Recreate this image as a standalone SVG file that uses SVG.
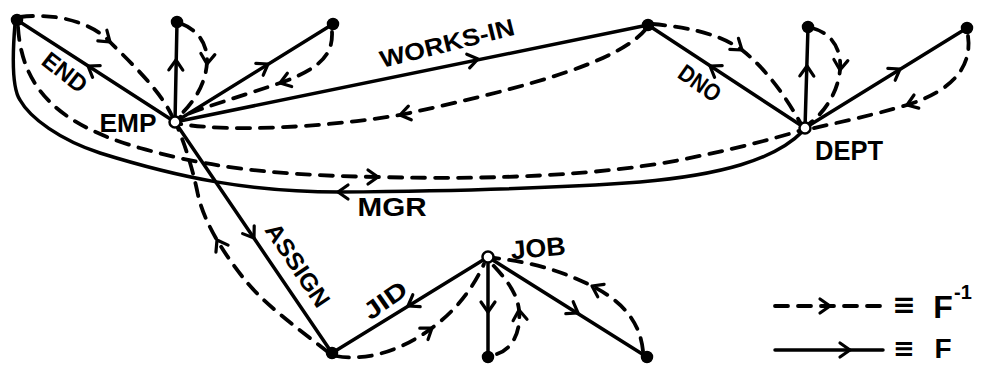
<svg xmlns="http://www.w3.org/2000/svg" xmlns:xlink="http://www.w3.org/1999/xlink" width="992" height="367" viewBox="0 0 992 367">
<style>
.s{fill:none;stroke:#000;stroke-width:3.5;stroke-linecap:round;stroke-linejoin:round}
.d{fill:none;stroke:#000;stroke-width:3.8;stroke-linecap:round;stroke-dasharray:13 10}
.f{fill:#000;stroke:#000;stroke-width:1.5}
.h{fill:#fff;stroke:#000;stroke-width:2.5}
.t{font-family:"Liberation Sans",Arial,sans-serif;font-weight:bold;fill:#000;text-anchor:middle}
.eq{font-family:"DejaVu Sans",sans-serif;font-weight:bold;fill:#000;text-anchor:middle}
</style>
<defs>
<path id="chev" d="M-10,-7 L0,0 L-10,7" fill="none" stroke="#000" stroke-width="3.2" stroke-linecap="round" stroke-linejoin="round"/>
</defs>
<rect width="992" height="367" fill="#fff"/>
<g id="connectors">
<!-- solid edges -->
<path class="s" d="M175,122 L17,20"/>
<path class="s" d="M175,122 L177,22"/>
<path class="s" d="M175,122 L333,24"/>
<path class="s" d="M175,122 L648,25"/>
<path class="s" d="M805,128 L648,25"/>
<path class="s" d="M805,128 L808,27"/>
<path class="s" d="M805,128 L967,28"/>
<path class="s" d="M803,131 C775,160 720,175 640,182 C560,188 450,191 340,192 C250,192 180,178 100,153 C60,140 30,118 20,100 C12,88 12,60 15,24"/>
<path class="s" d="M175,122 L332,353"/>
<path class="s" d="M488,257 L332,353"/>
<path class="s" d="M488,257 L488,357"/>
<path class="s" d="M488,257 L647,357"/>
<!-- dashed edges -->
<path class="d" d="M20,17 C60,12 95,25 110,42 C130,62 160,90 172,116"/>
<path class="d" d="M18,27 C22,90 60,125 140,148 C200,165 260,175 378,177 C500,180 600,175 680,160 C730,150 770,140 802,130"/>
<path class="d" d="M182,24 C198,30 208,45 207,62 C206,85 192,105 177,118"/>
<path class="d" d="M332,32 C333,55 320,68 283,82 C245,95 210,105 180,117"/>
<path class="d" d="M646,29 C620,60 540,85 400,115 C320,128 230,132 180,124"/>
<path class="d" d="M652,24 C700,28 725,38 742,50 C765,68 785,95 801,124"/>
<path class="d" d="M812,28 C832,33 842,50 840,70 C838,92 825,112 809,124"/>
<path class="d" d="M968,36 C972,65 955,90 907,105 C870,116 840,122 810,129"/>
<path class="d" d="M328,352 C300,330 265,305 245,280 C225,255 205,225 198,195 C192,165 183,140 177,126"/>
<path class="d" d="M336,356 C370,362 405,348 432,328 C455,311 472,290 484,264"/>
<path class="d" d="M497,354 C514,348 521,330 519,310 C517,292 505,278 492,264"/>
<path class="d" d="M643,351 C640,320 620,300 592,286 C560,270 530,262 494,258"/>
<!-- arrowheads -->
<use href="#chev" transform="translate(88,66) rotate(-147)"/>
<use href="#chev" transform="translate(176,60) rotate(-89)"/>
<use href="#chev" transform="translate(268,64) rotate(-32)"/>
<use href="#chev" transform="translate(478,59) rotate(-12)"/>
<use href="#chev" transform="translate(710,66) rotate(-147)"/>
<use href="#chev" transform="translate(807,66) rotate(-89)"/>
<use href="#chev" transform="translate(900,69) rotate(-32)"/>
<use href="#chev" transform="translate(338,192) rotate(180)"/>
<use href="#chev" transform="translate(254,238) rotate(56)"/>
<use href="#chev" transform="translate(408,306) rotate(148)"/>
<use href="#chev" transform="translate(488,312) rotate(90)"/>
<use href="#chev" transform="translate(578,313) rotate(32)"/>
<use href="#chev" transform="translate(110,42) rotate(40)"/>
<use href="#chev" transform="translate(378,177) rotate(0)"/>
<use href="#chev" transform="translate(207,64) rotate(95)"/>
<use href="#chev" transform="translate(280,83) rotate(162)"/>
<use href="#chev" transform="translate(400,115) rotate(168)"/>
<use href="#chev" transform="translate(742,50) rotate(38)"/>
<use href="#chev" transform="translate(840,70) rotate(95)"/>
<use href="#chev" transform="translate(907,105) rotate(160)"/>
<use href="#chev" transform="translate(217,240) rotate(-120)"/>
<use href="#chev" transform="translate(432,328) rotate(-36)"/>
<use href="#chev" transform="translate(519,310) rotate(-96)"/>
<use href="#chev" transform="translate(592,286) rotate(-153)"/>
<!-- edge labels -->
<text class="t" font-size="24" transform="translate(65,72) rotate(38)" x="0" y="8.6" textLength="50" lengthAdjust="spacingAndGlyphs">END</text>
<text class="t" font-size="24" transform="translate(447,43) rotate(-14)" x="0" y="8.6" textLength="138" lengthAdjust="spacingAndGlyphs">WORKS-IN</text>
<text class="t" font-size="24" transform="translate(700,83) rotate(35)" x="0" y="8.6" textLength="46" lengthAdjust="spacingAndGlyphs">DNO</text>
<text class="t" font-size="26" x="392" y="216" textLength="69" lengthAdjust="spacingAndGlyphs">MGR</text>
<text class="t" font-size="24" transform="translate(298,265) rotate(56)" x="0" y="8.6" textLength="96" lengthAdjust="spacingAndGlyphs">ASSIGN</text>
<text class="t" font-size="24" transform="translate(385,300) rotate(-35)" x="0" y="8.6" textLength="48" lengthAdjust="spacingAndGlyphs">JID</text>
</g>
<g id="node-a"><circle class="f" cx="17" cy="20" r="5.5"/></g>
<g id="node-b"><circle class="f" cx="177" cy="22" r="5.5"/></g>
<g id="node-c"><circle class="f" cx="333" cy="24" r="5.5"/></g>
<g id="node-emp"><circle class="h" cx="175" cy="122" r="5.5"/><text class="t" font-size="26" x="128" y="132" textLength="57" lengthAdjust="spacingAndGlyphs">EMP</text></g>
<g id="node-d"><circle class="f" cx="648" cy="25" r="5.5"/></g>
<g id="node-e"><circle class="f" cx="808" cy="27" r="5.5"/></g>
<g id="node-f"><circle class="f" cx="967" cy="28" r="5.5"/></g>
<g id="node-dept"><circle class="h" cx="805" cy="128" r="5.5"/><text class="t" font-size="28" x="849" y="160" textLength="68" lengthAdjust="spacingAndGlyphs">DEPT</text></g>
<g id="node-job"><circle class="h" cx="488" cy="257" r="5.5"/><text class="t" font-size="26" transform="translate(538,248) rotate(-5)" x="0" y="9" textLength="55" lengthAdjust="spacingAndGlyphs">JOB</text></g>
<g id="node-g"><circle class="f" cx="332" cy="353" r="5.5"/></g>
<g id="node-h"><circle class="f" cx="488" cy="357" r="5.5"/></g>
<g id="node-i"><circle class="f" cx="647" cy="357" r="5.5"/></g>
<g id="legend">
<path class="d" d="M775,306 L883,306" stroke-dasharray="16 10"/>
<use href="#chev" transform="translate(830,306)"/>
<text class="eq" font-size="28" x="904" y="314">≡</text>
<text class="t" font-size="32" x="943" y="318">F</text>
<text class="t" font-size="20" x="954" y="299" style="text-anchor:start">-1</text>
<path class="s" d="M775,350 L883,350"/>
<use href="#chev" transform="translate(850,350)"/>
<text class="eq" font-size="26" x="904" y="357">≡</text>
<text class="t" font-size="28" x="943" y="358">F</text>
</g>
</svg>
